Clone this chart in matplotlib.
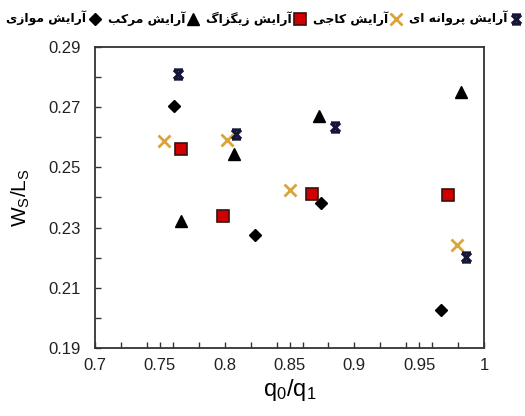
import numpy as np
import matplotlib
matplotlib.use("Agg")
import matplotlib.pyplot as plt
from matplotlib.path import Path

plt.rcParams['font.family'] = ['Liberation Sans', 'DejaVu Sans']
plt.rcParams['mathtext.default'] = 'regular'

# داده ها (خوانده شده از شکل)
x_parallel = [0.761, 0.823, 0.874, 0.967]      # آرایش موازی
y_parallel = [0.2705, 0.2277, 0.2383, 0.2026]
x_compound = [0.766, 0.807, 0.873, 0.982]      # آرایش مرکب
y_compound = [0.2322, 0.2545, 0.2671, 0.2751]
x_zigzag = [0.766, 0.799, 0.867, 0.972]        # آرایش زیگزاگ
y_zigzag = [0.2560, 0.2340, 0.2412, 0.2409]
x_kaji = [0.753, 0.802, 0.850, 0.979]          # آرایش کاجی
y_kaji = [0.2589, 0.2592, 0.2425, 0.2242]
x_butterfly = [0.764, 0.809, 0.885, 0.986]     # آرایش پروانه ای
y_butterfly = [0.2809, 0.2611, 0.2635, 0.2203]

labels = ["آرایش موازی", "آرایش مرکب", "آرایش زیگزاگ", "آرایش کاجی", "آرایش پروانه ای"]

# شکل های حروف فارسی: (تنها، پایانی، آغازی، میانی)
FORMS = {
    'آ': ('\uFE81', '\uFE82'), 'ا': ('\uFE8D', '\uFE8E'),
    'ر': ('\uFEAD', '\uFEAE'), 'ز': ('\uFEAF', '\uFEB0'),
    'و': ('\uFEED', '\uFEEE'),
    'ش': ('\uFEB5', '\uFEB6', '\uFEB7', '\uFEB8'),
    'م': ('\uFEE1', '\uFEE2', '\uFEE3', '\uFEE4'),
    'ب': ('\uFE8F', '\uFE90', '\uFE91', '\uFE92'),
    'ج': ('\uFE9D', '\uFE9E', '\uFE9F', '\uFEA0'),
    'ن': ('\uFEE5', '\uFEE6', '\uFEE7', '\uFEE8'),
    'ه': ('\uFEE9', '\uFEEA', '\uFEEB', '\uFEEC'),
    'پ': ('\uFB56', '\uFB57', '\uFB58', '\uFB59'),
    'ک': ('\uFB8E', '\uFB8F', '\uFB90', '\uFB91'),
    'گ': ('\uFB92', '\uFB93', '\uFB94', '\uFB95'),
    'ی': ('\uFBFC', '\uFBFD', '\uFBFE', '\uFBFF'),
}


def shape(text):
    out = []
    for i, c in enumerate(text):
        if c not in FORMS:
            out.append(c)
            continue
        prev = text[i - 1] if i > 0 else ''
        nxt = text[i + 1] if i + 1 < len(text) else ''
        join_prev = prev in FORMS and len(FORMS[prev]) == 4
        join_next = nxt in FORMS and len(FORMS[c]) == 4
        f = FORMS[c]
        if join_prev and join_next:
            out.append(f[3])
        elif join_prev:
            out.append(f[1])
        elif join_next:
            out.append(f[2])
        else:
            out.append(f[0])
    return ''.join(out)[::-1]


# نشانگر پروانه ای
bfly = Path([(-1, -1), (1, 1), (-1, 1), (1, -1), (-1, 1), (1, 1), (-1, -1), (1, -1)],
            [Path.MOVETO, Path.LINETO] * 4)

fig = plt.figure(figsize=(5.25, 4.16), dpi=100)
ax = fig.add_axes([0.181, 0.1635, 0.741, 0.7236])

ax.plot(x_parallel, y_parallel, 'D', color='black', ms=6.5, label=shape(labels[0]))
ax.plot(x_compound, y_compound, '^', color='black', ms=9, label=shape(labels[1]))
ax.plot(x_zigzag, y_zigzag, 's', mfc='#d00000', mec='#3a1010', mew=1.2, ms=8, label=shape(labels[2]))
ax.plot(x_kaji, y_kaji, 'x', color='#d9a43a', mew=2, ms=8, label=shape(labels[3]))
ax.plot(x_butterfly, y_butterfly, marker=bfly, ls='none', color='#161638', mew=2.4, ms=6.5,
        label=shape(labels[4]))

ax.set_xlim(0.7, 1.0)
ax.set_ylim(0.19, 0.29)
ax.set_xticks([0.7, 0.75, 0.8, 0.85, 0.9, 0.95, 1.0])
ax.set_xticklabels(['0.7', '0.75', '0.8', '0.85', '0.9', '0.95', '1'])
ax.set_xticks(list(np.arange(0.72, 0.99, 0.02)), minor=True)
ax.set_yticks([0.19, 0.21, 0.23, 0.25, 0.27, 0.29])
ax.set_yticks([0.20, 0.22, 0.24, 0.26, 0.28], minor=True)
ax.tick_params(which='both', direction='in', length=4, width=1, labelsize=12, color='#333333',
               labelcolor='#222222')
ax.tick_params(axis='x', pad=7)
ax.tick_params(axis='y', pad=10)
for s in ax.spines.values():
    s.set_linewidth(1.3)
    s.set_color('#333333')

ax.set_xlabel('$q_0/q_1$', fontsize=17, labelpad=3)
ax.set_ylabel('$W_S/L_S$', fontsize=15, labelpad=12)

fig.legend(loc='upper center', bbox_to_anchor=(0.503, 1.0), ncol=5, frameon=False,
           markerfirst=False, handletextpad=0.15, columnspacing=0.55, handlelength=1.0,
           prop={'family': 'DejaVu Sans', 'size': 8.9, 'weight': 'bold'})

fig.savefig('out.png', dpi=100)
